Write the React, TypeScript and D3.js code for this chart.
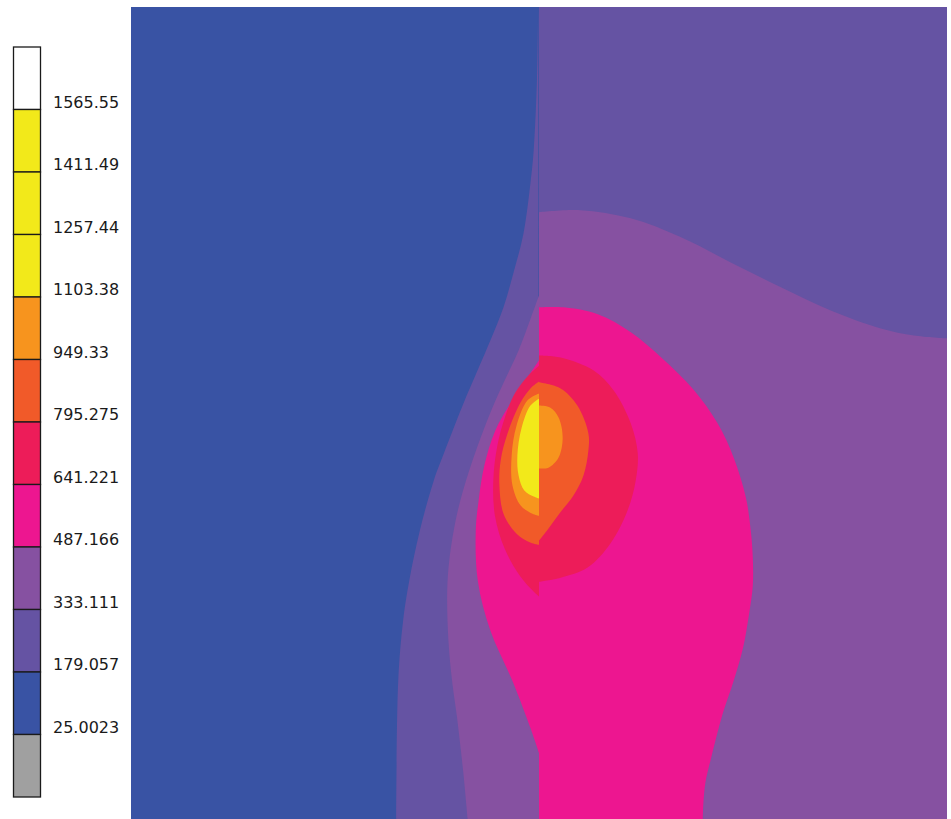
import React from 'react';
import * as d3 from 'd3';

// Contour levels (ascending) and band colours (band below first level, then each [level_i, level_i+1), last = above top)
const levels = [25.0023, 179.057, 333.111, 487.166, 641.221, 795.275, 949.33, 1103.38, 1257.44, 1411.49, 1565.55];
const levelLabels = ['25.0023', '179.057', '333.111', '487.166', '641.221', '795.275', '949.33', '1103.38', '1257.44', '1411.49', '1565.55'];
const bandColors = ['#a0a0a0', '#3953a4', '#6553a3', '#8651a1', '#ed1690', '#ed1c59', '#f15a29', '#f7941e', '#f2e91a', '#f2e91a', '#f2e91a', '#ffffff'];

// Isolines: [x (mm, 0 = symmetry plane), depth (mm)]
const rightIso333 = [[0, 5.03], [1.02, 4.98], [2.25, 5.18], [3.47, 5.64], [4.7, 6.26], [5.93, 6.87], [7.15, 7.44], [8.38, 7.88], [9.19, 8.05], [10, 8.12]];
const rightIso487 = [[0, 7.36], [0.6, 7.36], [1.44, 7.53], [2.25, 7.97], [3.01, 8.6], [3.79, 9.38], [4.38, 10.21], [4.77, 11.04], [5.07, 12.02], [5.19, 12.83], [5.24, 13.5], [5.24, 14.18], [5.15, 14.87], [5.0, 15.71], [4.77, 16.52], [4.5, 17.33], [4.22, 18.4], [4.08, 19.0], [4.03, 19.5], [4.01, 20]];
const rightIso641 = [[0, 8.54], [0.53, 8.59], [1.34, 8.91], [1.83, 9.4], [2.25, 10.21], [2.42, 10.94], [2.37, 11.61], [2.17, 12.34], [1.75, 13.15], [1.19, 13.74], [0.53, 13.99], [0, 14.09]];
const rightIso795 = [[0, 9.2], [0.53, 9.35], [0.94, 9.77], [1.21, 10.45], [1.21, 10.87], [1.09, 11.48], [0.84, 11.98], [0.52, 12.39], [0.22, 12.8], [0, 13.08]];
const rightIso949 = [[0, 9.77], [0.28, 9.82], [0.48, 10.06], [0.58, 10.55], [0.48, 11.04], [0.23, 11.29], [0, 11.31]];

const leftIso179 = [[-0.02, 0], [-0.05, 1.79], [-0.13, 3.51], [-0.21, 4.32], [-0.38, 5.55], [-0.63, 6.53], [-0.87, 7.36], [-1.19, 8.17], [-1.58, 9.08], [-1.82, 9.64], [-2.33, 10.94], [-2.58, 11.61], [-2.92, 12.83], [-3.18, 14.06], [-3.33, 15.04], [-3.45, 16.52], [-3.5, 20]];
const leftIso333 = [[0, 7.07], [-0.22, 7.68], [-0.5, 8.42], [-0.84, 9.15], [-1.17, 9.89], [-1.52, 10.8], [-1.79, 11.61], [-1.96, 12.22], [-2.09, 12.83], [-2.2, 13.57], [-2.25, 14.31], [-2.22, 15.53], [-2.13, 16.52], [-2.02, 17.33], [-1.86, 18.72], [-1.74, 20]];
const leftIso487 = [[0, 8.66], [-0.38, 9.23], [-0.65, 9.64], [-1.07, 10.38], [-1.34, 11.24], [-1.48, 12.1], [-1.55, 12.83], [-1.5, 14.06], [-1.19, 15.29], [-0.65, 16.52], [-0.21, 17.67], [0, 18.28]];
const leftIso641 = [[0, 8.79], [-0.26, 9.03], [-0.58, 9.45], [-0.82, 10.01], [-1.02, 10.75], [-1.12, 11.61], [-1.08, 12.47], [-0.84, 13.28], [-0.47, 13.94], [-0.15, 14.31], [0, 14.45]];
const leftIso795 = [[0, 9.18], [-0.21, 9.35], [-0.45, 9.69], [-0.77, 10.45], [-0.94, 11.12], [-0.97, 11.73], [-0.87, 12.42], [-0.55, 12.91], [-0.2, 13.13], [0, 13.18]];
const leftIso949 = [[0, 9.47], [-0.28, 9.64], [-0.55, 10.26], [-0.67, 10.99], [-0.65, 11.73], [-0.45, 12.22], [-0.16, 12.42], [0, 12.47]];
const leftIso1103 = [[0, 9.6], [-0.21, 9.77], [-0.43, 10.33], [-0.53, 10.99], [-0.5, 11.48], [-0.36, 11.85], [-0.13, 12.0], [0, 12.05]];

const rightContours = [
  { level: 333.111, points: rightIso333 },
  { level: 487.166, points: rightIso487 },
  { level: 641.221, points: rightIso641 },
  { level: 795.275, points: rightIso795 },
  { level: 949.33, points: rightIso949 },
];
const leftContours = [
  { level: 179.057, points: leftIso179 },
  { level: 333.111, points: leftIso333 },
  { level: 487.166, points: leftIso487 },
  { level: 641.221, points: leftIso641 },
  { level: 795.275, points: leftIso795 },
  { level: 949.33, points: leftIso949 },
  { level: 1103.38, points: leftIso1103 },
];
const rightBaseLevel = 179.057;
const leftBaseLevel = 25.0023;

const X_MIN = -10, X_MAX = 10, Y_MIN = 0, Y_MAX = 20;

export default function App() {
  const W = 951, H = 819;
  const x = d3.scaleLinear().domain([X_MIN, X_MAX]).range([131, 947]);
  const y = d3.scaleLinear().domain([Y_MIN, Y_MAX]).range([7, 823]);
  const color = d3.scaleThreshold<number, string>().domain(levels).range(bandColors);

  const line = d3.line<number[]>().x(d => x(d[0])).y(d => y(d[1])).curve(d3.curveCatmullRom.alpha(0.5));

  const closedPath = (pts: number[][]) => {
    const last = pts[pts.length - 1];
    const extra: number[][] = [];
    const yb = Y_MAX + 0.5;
    if (last[0] === X_MAX) extra.push([X_MAX, yb]);
    if (last[1] >= Y_MAX) extra.push([last[0], yb]);
    if (last[0] !== 0) extra.push([0, yb]);
    let d = line(pts) || '';
    extra.forEach(p => { d += `L${x(p[0])},${y(p[1])}`; });
    return d + 'Z';
  };

  // Legend
  const nBands = bandColors.length;
  const ly = d3.scaleLinear().domain([0, nBands]).range([47, 797]);
  const legendColorsTopDown = bandColors.slice().reverse();
  const labelsTopDown = levelLabels.slice().reverse();

  const x0 = x(0);
  return (
    <svg width={W} height={H} style={{ position: 'absolute', left: 0, top: 0, background: '#fff' }}
      xmlns="http://www.w3.org/2000/svg">
      <defs>
        <clipPath id="clipL">
          <rect x={x(X_MIN)} y={y(Y_MIN)} width={x0 - x(X_MIN)} height={y(Y_MAX) - y(Y_MIN)} />
        </clipPath>
        <clipPath id="clipR">
          <rect x={x0} y={y(Y_MIN)} width={x(X_MAX) - x0} height={y(Y_MAX) - y(Y_MIN)} />
        </clipPath>
      </defs>
      <g clipPath="url(#clipL)">
        <rect x={x(X_MIN)} y={y(Y_MIN)} width={x0 - x(X_MIN) + 1} height={y(Y_MAX) - y(Y_MIN)} fill={color(leftBaseLevel)} />
        {leftContours.map((c, i) => (
          <path key={i} d={closedPath(c.points)} fill={color(c.level)} />
        ))}
      </g>
      <g clipPath="url(#clipR)">
        <rect x={x0} y={y(Y_MIN)} width={x(X_MAX) - x0} height={y(Y_MAX) - y(Y_MIN)} fill={color(rightBaseLevel)} />
        {rightContours.map((c, i) => (
          <path key={i} d={closedPath(c.points)} fill={color(c.level)} />
        ))}
      </g>
      <g>
        {legendColorsTopDown.map((c, i) => (
          <rect key={i} x={13.5} y={ly(i)} width={27} height={ly(i + 1) - ly(i)} fill={c} stroke="#1a1a1a" strokeWidth={1.3} />
        ))}
        {labelsTopDown.map((t, i) => (
          <text key={i} x={53} y={ly(i + 1) - 2} fontFamily="'DejaVu Sans', Verdana, sans-serif" fontSize={16} fill="#1a1a1a">{t}</text>
        ))}
      </g>
    </svg>
  );
}
